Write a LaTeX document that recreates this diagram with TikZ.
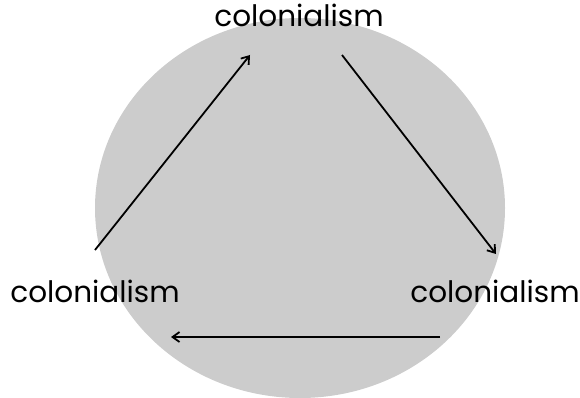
\documentclass[tikz,border=0pt]{standalone}
\usepackage{fontspec}
\setmainfont{Poppins}
\usetikzlibrary{arrows.meta}
\definecolor{disc}{HTML}{CCCCCC}
\tikzset{
  lbl/.style={font=\fontsize{29.5}{32}\selectfont, inner sep=0pt, anchor=base},
  link/.style={line width=1.8pt, -{Straight Barb[length=7pt,width=10pt]}}
}
\begin{document}
\begin{tikzpicture}[x=1pt,y=-1pt]
\useasboundingbox (0,0) rectangle (580,398);
\fill[disc] (300,208) ellipse [x radius=205, y radius=190];
\node[lbl] (top) at (299,27) {colonialism};
\node[lbl] (left) at (95,302) {colonialism};
\node[lbl] (right) at (495,302) {colonialism};
\coordinate (a1s) at (95,250);
\coordinate (a1e) at (250,55);
\coordinate (a2s) at (342,55);
\coordinate (a2e) at (496,254);
\coordinate (a3s) at (440,337);
\coordinate (a3e) at (171,337);
\draw[link] (a1s) -- (a1e);
\draw[link] (a2s) -- (a2e);
\draw[link] (a3s) -- (a3e);
\end{tikzpicture}
\end{document}
